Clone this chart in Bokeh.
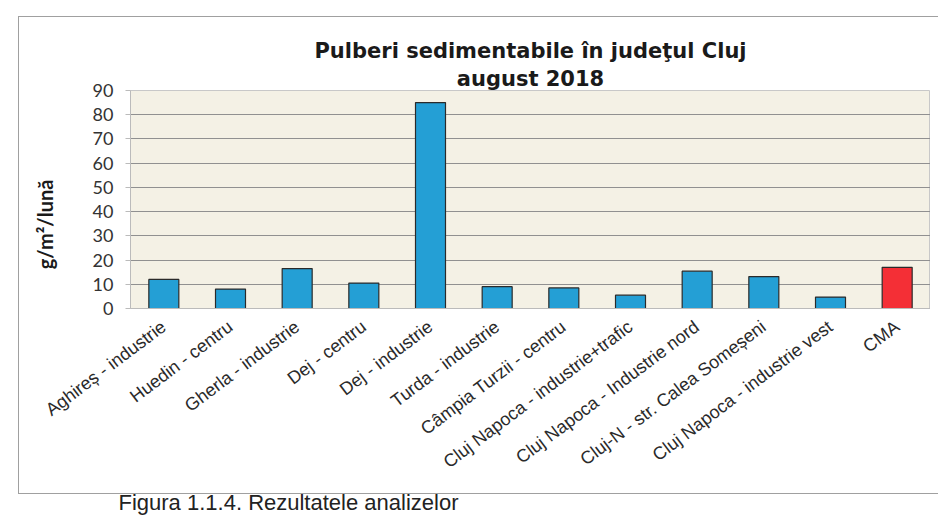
from bokeh.plotting import figure
from bokeh.models import ColumnDataSource, FixedTicker, Range1d, Title, InlineStyleSheet
from bokeh.embed import file_html
from bokeh.resources import INLINE

categories = [
    "Aghireș - industrie",
    "Huedin - centru",
    "Gherla - industrie",
    "Dej - centru",
    "Dej - industrie",
    "Turda - industrie",
    "Câmpia Turzii - centru",
    "Cluj Napoca - industrie+trafic",
    "Cluj Napoca - Industrie nord",
    "Cluj-N - str. Calea Someșeni",
    "Cluj Napoca - industrie vest",
    "CMA",
]
values = [12.0, 8.0, 16.5, 10.5, 85.0, 9.0, 8.5, 5.5, 15.4, 13.2, 4.7, 17.0]
colors = ["#249fd5"] * 11 + ["#f42f36"]
y_ticks = [0, 10, 20, 30, 40, 50, 60, 70, 80, 90]

src = ColumnDataSource(dict(cat=categories, val=values, col=colors))

frame_css = InlineStyleSheet(css="""
:host { position: relative; }
:host::after {
  content: '';
  position: absolute;
  left: 18px; top: 16px; width: 930px; height: 476px;
  border: 1px solid #a0a0a0;
  pointer-events: none;
}
""")

p = figure(
    x_range=categories,
    y_range=Range1d(0, 90),
    width=930,
    height=520,
    output_backend="svg",
    toolbar_location=None,
    min_border_left=130,
    min_border_right=0,
    min_border_top=90,
    min_border_bottom=212,
    stylesheets=[frame_css],
)

p.title.text = "Pulberi sedimentabile în judeţul Cluj"
p.title.align = "center"
p.title.text_font = "DejaVu Sans"
p.title.text_font_size = "21px"
p.title.text_font_style = "bold"
p.title.text_color = "#1a1a1a"
p.title.standoff = 4
p.add_layout(Title(text="august 2018", align="center",
                   text_font="DejaVu Sans", text_font_size="21px",
                   text_font_style="bold", text_color="#1a1a1a", standoff=0), "above")

p.vbar(x="cat", top="val", width=0.45, source=src, fill_color="col",
       line_color="#2a2a2a", line_width=1.2)

p.background_fill_color = "#f4f1e5"
p.border_fill_color = "white"
p.outline_line_color = "#c8c8c8"

p.xgrid.grid_line_color = None
p.ygrid.grid_line_color = "#909090"
p.ygrid.grid_line_width = 1

p.yaxis.ticker = FixedTicker(ticks=y_ticks)
p.yaxis.axis_label = "g/m²/lună" + "\u2002" * 5
p.yaxis.axis_label_text_font = "Lato"
p.yaxis.axis_label_text_font_style = "bold"
p.yaxis.axis_label_text_font_size = "20px"
p.yaxis.axis_label_text_color = "#1a1a1a"
p.yaxis.axis_label_standoff = 33
p.yaxis.major_label_text_font = "Lato"
p.yaxis.major_label_text_font_size = "18px"
p.yaxis.major_label_text_color = "#333333"
p.yaxis.major_label_standoff = 12
p.yaxis.axis_line_color = "#bbbbbb"
p.yaxis.major_tick_line_color = "#bbbbbb"
p.yaxis.major_tick_in = 0
p.yaxis.major_tick_out = 5
p.yaxis.minor_tick_line_color = None

p.xaxis.major_label_orientation = 0.646
p.xaxis.major_label_text_font = "Liberation Sans"
p.xaxis.major_label_text_font_size = "18px"
p.xaxis.major_label_text_color = "#2a2a2a"
p.xaxis.major_label_standoff = 10
p.xaxis.axis_line_color = "#bbbbbb"
p.xaxis.major_tick_line_color = None

p.add_layout(Title(text="Figura 1.1.4. Rezultatele analizelor", align="left",
                   offset=-12, standoff=10, text_font="Liberation Sans",
                   text_font_size="22px", text_font_style="normal",
                   text_color="#222222"), "below")

open("out.html", "w").write(file_html(p, INLINE))
